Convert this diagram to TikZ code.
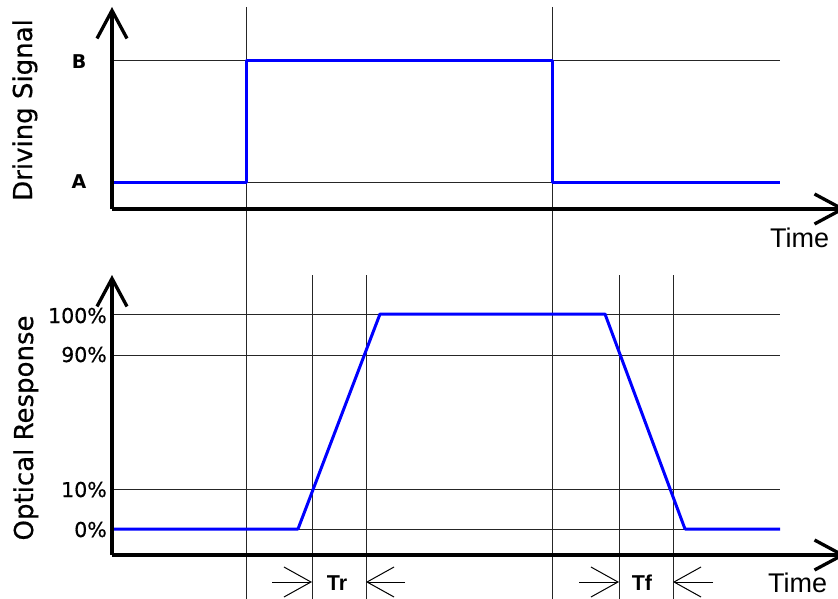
\documentclass[tikz,border=0pt]{standalone}
\usepackage{fontspec}
\setmainfont{DejaVu Sans}
\newfontfamily\heavyfont[FakeBold=0.6]{DejaVu Sans}
\newfontfamily\arialfont{Liberation Sans}
\usetikzlibrary{arrows.meta}
\begin{document}
\begin{tikzpicture}[x=1pt,y=-1pt,
  axis/.style={line width=3.3pt, -{Straight Barb[length=28pt,width=30pt]}},
  gridline/.style={line width=1pt, black!85},
  sig/.style={line width=3pt, blue, line join=round},
  dimarrow/.style={line width=1pt, -{Straight Barb[length=27pt,width=30pt]}},
  ylab/.style={rotate=90, anchor=base, font=\heavyfont\fontsize{26}{30}\selectfont, inner sep=0pt},
  lvl/.style={anchor=base east, font=\heavyfont\fontsize{20.5}{24}\selectfont, inner sep=0pt},
  ablab/.style={anchor=base, font=\fontsize{19}{22}\selectfont\bfseries, inner sep=0pt},
  timelab/.style={anchor=base west, font=\arialfont\fontsize{27}{30}\selectfont, inner sep=0pt},
  tlab/.style={anchor=base, font=\arialfont\bfseries\fontsize{21.5}{24}\selectfont, inner sep=0pt}
]
\useasboundingbox (0,0) rectangle (838,599);
\clip (0,0) rectangle (838,599);

% reference coordinates
\coordinate (o1) at (112,209);
\coordinate (o2) at (112,555);

% grid lines top
\draw[gridline] (112,61) -- (780,61);
\draw[gridline] (112,182) -- (780,182);
% grid lines bottom
\draw[gridline] (112,314) -- (780,314);
\draw[gridline] (112,355) -- (780,355);
\draw[gridline] (112,489) -- (780,489);
\draw[gridline] (112,529) -- (780,529);
% long vertical lines
\draw[gridline] (246,7) -- (246,605);
\draw[gridline] (552,7) -- (552,605);
% short vertical lines
\draw[gridline] (312,275) -- (312,605);
\draw[gridline] (366,275) -- (366,605);
\draw[gridline] (619,275) -- (619,605);
\draw[gridline] (673,275) -- (673,605);

% signals
\draw[sig] (112,182) -- (246,182) -- (246,61) -- (552,61) -- (552,182) -- (780,182);
\draw[sig] (112,529) -- (298,529) -- (380,314) -- (605,314) -- (685,529) -- (780,529);

% axes
\coordinate (ytop1) at (112,7);
\coordinate (xend1) at (846,209);
\coordinate (ytop2) at (112,275);
\coordinate (xend2) at (846,555);
\draw[axis] (o1) -- (ytop1);
\draw[axis] (o1) -- (xend1);
\draw[axis] (o2) -- (ytop2);
\draw[axis] (o2) -- (xend2);

% dimension arrows
\coordinate (tr1s) at (272,582); \coordinate (tr1e) at (312,582);
\coordinate (tr2s) at (405,582); \coordinate (tr2e) at (366,582);
\coordinate (tf1s) at (579,582); \coordinate (tf1e) at (619,582);
\coordinate (tf2s) at (713,582); \coordinate (tf2e) at (673,582);
\draw[dimarrow] (tr1s) -- (tr1e);
\draw[dimarrow] (tr2s) -- (tr2e);
\draw[dimarrow] (tf1s) -- (tf1e);
\draw[dimarrow] (tf2s) -- (tf2e);

% labels
\node[ylab] (ds) at (32,110) {Driving Signal};
\node[ylab] (orsp) at (33,428) {Optical Response};
\node[ablab] (lb) at (79,69) {B};
\node[ablab] (la) at (79,189) {A};
\node[lvl] (p100) at (107,323) {100\%};
\node[lvl] (p90) at (107,362) {90\%};
\node[lvl] (p10) at (107,497) {10\%};
\node[lvl] (p0) at (107,537) {0\%};
\node[timelab] (time1) at (770,247) {Time};
\node[timelab] (time2) at (768,592) {Time};
\node[tlab] (tr) at (337,590) {Tr};
\node[tlab] (tf) at (642,590) {Tf};
\end{tikzpicture}
\end{document}
